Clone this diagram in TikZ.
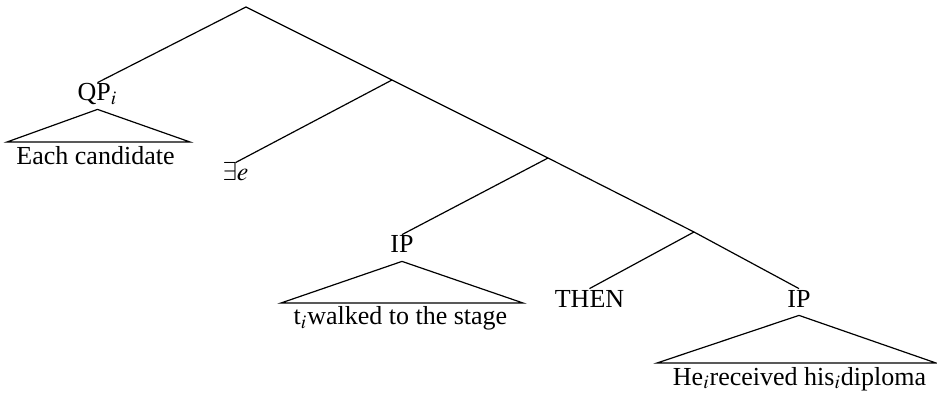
\documentclass[tikz,border=0pt]{standalone}
\usepackage{mathptmx}
\usepackage{fontspec}
\setmainfont{Liberation Serif}

\begin{document}
\begin{tikzpicture}[x=0.5pt,y=-0.5pt,
    lbl/.style={anchor=base, inner xsep=0pt, inner ysep=2pt, text height=0.7em, text depth=0.2em, font=\fontsize{13}{15}\selectfont},
    branch/.style={line width=0.6pt}]
    \useasboundingbox (0,0) rectangle (937,395);
    % branching points
    \coordinate (root) at (246,7);
    \coordinate (n1) at (392,80);
    \coordinate (n2) at (548,158);
    \coordinate (n3) at (694,232);
    % labels
    \node[lbl] (qp) at (97.5,101) {QP$_i$};
    \node[lbl] (each) at (95.5,165) {Each candidate};
    \node[lbl] (ex) at (235.5,181) {$\exists e$};
    \node[lbl] (ipa) at (402,253) {IP};
    \node[lbl] (walk) at (400.5,325) {t$_i$walked to the stage};
    \node[lbl] (then) at (589.5,307) {THEN};
    \node[lbl] (ipb) at (799,307) {IP};
    \node[lbl] (recv) at (799.5,385) {He$_i$received his$_i$diploma};
    % roof corners
    \coordinate (qpl) at (7,142);
    \coordinate (qpr) at (190,142);
    \coordinate (ipal) at (281,303);
    \coordinate (ipar) at (523,303);
    \coordinate (ipbl) at (657,363);
    \coordinate (ipbr) at (936,363);
    % branches
    \draw[branch] (qp.north) -- (root) -- (n1) -- (n2) -- (n3) -- (ipb.north);
    \draw[branch] (ex.north) -- (n1);
    \draw[branch] (ipa.north) -- (n2);
    \draw[branch] (then.north) -- (n3);
    % roofs
    \draw[branch] (qp.south) -- (qpl) -- (qpr) -- cycle;
    \draw[branch] (ipa.south) -- (ipal) -- (ipar) -- cycle;
    \draw[branch] (ipb.south) -- (ipbl) -- (ipbr) -- cycle;
\end{tikzpicture}
\end{document}
